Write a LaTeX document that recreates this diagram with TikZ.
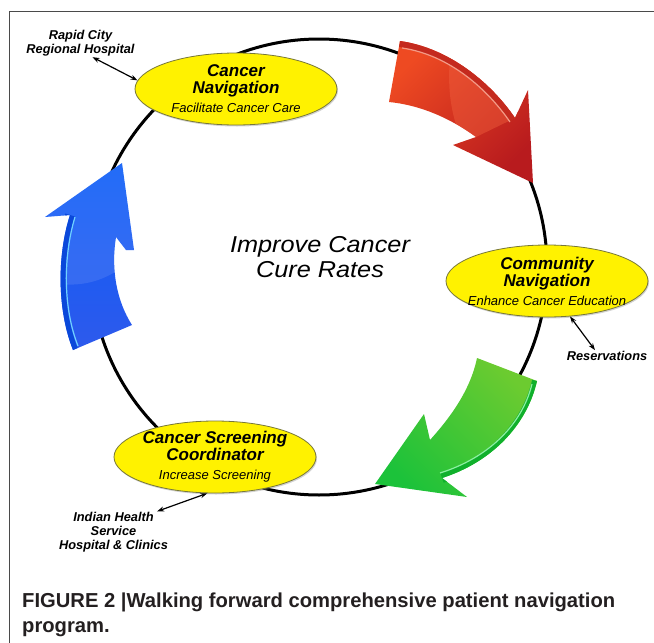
\documentclass[tikz,border=0pt]{standalone}
\usepackage{fontspec}
\setmainfont{Liberation Sans}
\newfontfamily\widefont[FakeStretch=1.1]{Liberation Sans}
\usetikzlibrary{shapes.geometric,arrows.meta,shadows}

\definecolor{hubyellow}{HTML}{FFF200}
\definecolor{hubedge}{HTML}{77773A}
\definecolor{framegray}{HTML}{4A4A4A}
\definecolor{capblack}{HTML}{231F20}
\definecolor{redtop}{HTML}{EE4A22}
\definecolor{redlow}{HTML}{B81B1E}
\definecolor{redgloss}{HTML}{F0603E}
\definecolor{redband}{HTML}{C42A1E}
\definecolor{redhi}{HTML}{F39A86}
\definecolor{greentop}{HTML}{6CCB30}
\definecolor{greenlow}{HTML}{1CC23A}
\definecolor{greenband}{HTML}{10B02C}
\definecolor{greenhi}{HTML}{8CEFA2}
\definecolor{bluetop}{HTML}{0A5CF8}
\definecolor{bluelow}{HTML}{2E5AEC}
\definecolor{blueband}{HTML}{0A48DA}
\definecolor{bluehi}{HTML}{6FD2FF}

% arrow outlines
\def\redshape{(400,41) .. controls (450,48) and (492,84) .. (515,118) -- (528,90) -- (533,183) -- (453,145) -- (476,137) .. controls (450,118) and (420,105) .. (389,102) -- cycle}
\def\greenshape{(477,358) -- (537,381) .. controls (527,425) and (492,462) .. (442,478) -- (467,497) -- (375,484) -- (424,414) -- (430,440) .. controls (448,420) and (470,392) .. (477,358) -- cycle}
\def\blueshape{(122,163) -- (134,250) -- (126,250) -- (116,237) .. controls (111,268) and (116,300) .. (132,325) -- (73,350) .. controls (57,310) and (57,255) .. (70,215) -- (45,217) -- cycle}

\begin{document}
\begin{tikzpicture}[x=1pt, y=-1pt,
  hub/.style={ellipse, draw=hubedge, line width=0.8pt, fill=hubyellow, minimum width=202pt, minimum height=72pt,
    inner xsep=-10pt, inner ysep=-2pt, align=center,
    font=\bfseries\itshape\fontsize{17}{17}\selectfont,
    drop shadow={shadow xshift=1pt, shadow yshift=-1.5pt, opacity=0.35}},
  site/.style={font=\bfseries\itshape\fontsize{12.8}{14}\selectfont, align=center, inner sep=1pt},
  link/.style={{Stealth[length=7pt,width=5pt]}-{Stealth[length=7pt,width=5pt]}, line width=1.2pt},
  ring/.style={line width=3pt}]

\useasboundingbox (0,0) rectangle (654,643);

% frame
\draw[framegray, line width=0.8pt] (654,11) -- (9,11) -- (9,643);

% cycle
\draw[ring] (319,267) circle[radius=228];

% red arrow
\shade[top color=redtop, bottom color=redlow, shading angle=45] \redshape;
\begin{scope}
  \clip \redshape;
  \fill[redgloss, opacity=.45] (455,30) .. controls (445,70) and (448,110) .. (462,140) -- (476,137) -- (515,118) -- (545,30) -- cycle;
  \draw[redband, line width=12pt] (400,41) .. controls (450,48) and (492,84) .. (515,118);
  \draw[redhi, line width=1.2pt] (402,48) .. controls (450,55) and (488,90) .. (510,122);
\end{scope}

% green arrow
\shade[top color=greentop, bottom color=greenlow, shading angle=-45] \greenshape;
\begin{scope}
  \clip \greenshape;
  \draw[greenband, line width=10pt] (537,381) .. controls (527,425) and (492,462) .. (442,478);
  \draw[greenhi, line width=1.2pt] (532,384) .. controls (522,425) and (488,458) .. (440,473);
\end{scope}

% blue arrow
\shade[top color=bluetop, bottom color=bluelow] \blueshape;
\begin{scope}
  \clip \blueshape;
  \fill[white, opacity=.1] (40,150) -- (40,280) .. controls (80,292) and (115,280) .. (140,250) -- (140,150) -- cycle;
  \draw[blueband, line width=10pt] (73,350) .. controls (57,310) and (57,255) .. (70,215);
  \draw[bluehi, line width=1.2pt] (78,346) .. controls (63,308) and (63,257) .. (75,217);
\end{scope}

% stations
\node[hub] (navcare) at (236,89) {Cancer\\Navigation\\[2pt]{\mdseries\fontsize{13}{13}\selectfont Facilitate Cancer Care}};
\node[hub] (navcomm) at (547,281) {Community\\Navigation\\[2pt]{\mdseries\fontsize{13}{13}\selectfont Enhance Cancer Education}};
\node[hub] (screen) at (215,457) {Cancer Screening\\Coordinator\\[2pt]{\mdseries\fontsize{13}{13}\selectfont Increase Screening}};

% partners
\node[site] (rapid) at (80.5,43) {Rapid City\\Regional Hospital};
\node[site] (reserv) at (607,356) {Reservations};
\node[site] (ihs) at (113.5,532.5) {Indian Health\\Service\\Hospital \& Clinics};

\draw[link] ([xshift=12pt]rapid.south) -- (navcare.175);
\draw[link] (navcomm.-57) -- ([xshift=-12pt]reserv.north);
\draw[link] ([xshift=-12pt]ihs.north east) -- (screen.-102);

% goal
\node[align=center, font=\widefont\itshape\fontsize{23}{25}\selectfont] (goal) at (320,257) {Improve Cancer\\Cure Rates};

% caption
\node[anchor=base west, align=left, inner sep=0pt, text=capblack, font=\bfseries\fontsize{20.2}{25}\selectfont] (cap) at (22,632)
  {FIGURE 2 |Walking forward comprehensive patient navigation\\program.};

\end{tikzpicture}
\end{document}
